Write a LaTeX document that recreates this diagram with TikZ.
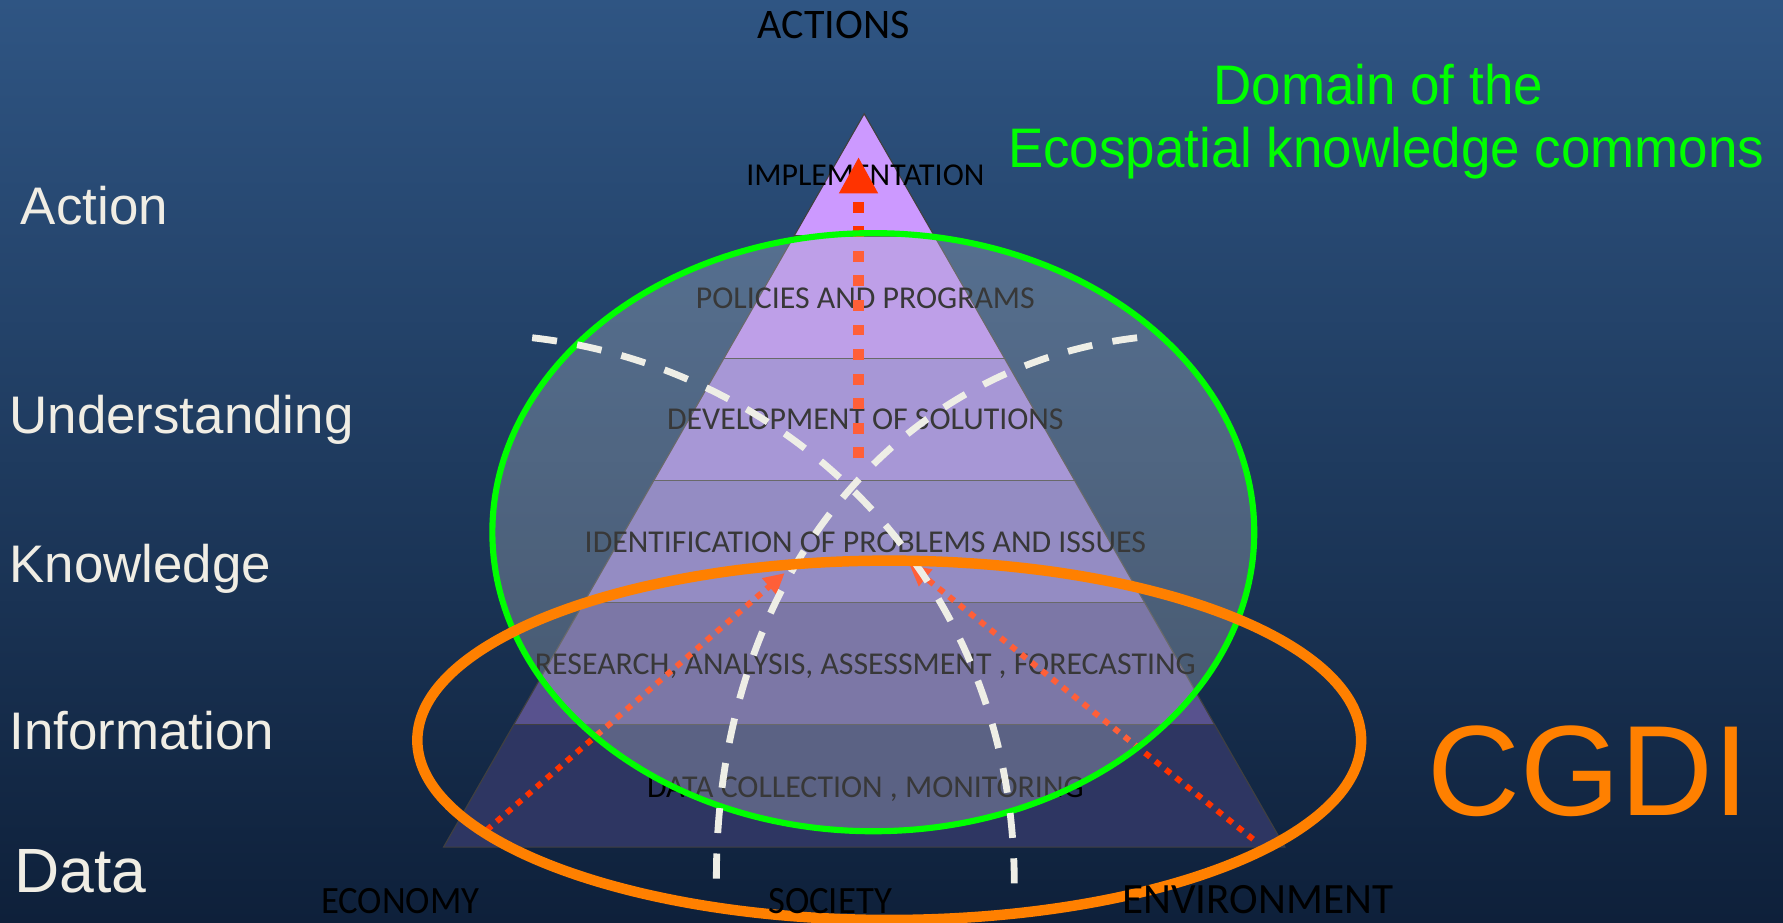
\documentclass[tikz,border=0pt]{standalone}
\usepackage{fontspec}
\setmainfont{Carlito}
\newfontfamily\arialf{Liberation Sans}
\usetikzlibrary{arrows.meta,calc}
\definecolor{bgtop}{RGB}{47,85,131}
\definecolor{bgbot}{RGB}{14,32,58}
\definecolor{layA}{RGB}{204,153,255}
\definecolor{layB}{RGB}{172,133,226}
\definecolor{layC}{RGB}{143,123,203}
\definecolor{layD}{RGB}{118,108,179}
\definecolor{layE}{RGB}{88,82,142}
\definecolor{layF}{RGB}{46,54,98}
\definecolor{arrowred}{RGB}{255,51,0}
\definecolor{dashwhite}{RGB}{238,238,230}
\definecolor{sidewhite}{RGB}{240,237,228}
\definecolor{cgdiorange}{RGB}{255,128,0}
\definecolor{domgreen}{RGB}{0,255,0}
\begin{document}
\begin{tikzpicture}[x=0.5pt,y=-0.5pt,
  layerlbl/.style={font=\fontsize{14}{16}\selectfont, text=black, inner sep=0pt, text depth=0pt},
  caplbl/.style={font=\fontsize{17}{19}\selectfont, text=black, inner sep=0pt, text depth=0pt},
  sidelbl/.style={font=\arialf\fontsize{23.25}{26}\selectfont, text=sidewhite, anchor=base west, inner sep=0pt},
  layerline/.style={draw=black!75, line width=0.5pt},
  bigarrow/.style={draw=arrowred, line width=4.8pt, dash pattern=on 4.8pt off 6pt, -{Triangle[length=16pt,width=16pt]}},
  diagarrow/.style={draw=arrowred, line width=2.6pt, dash pattern=on 2.8pt off 3pt, -{Triangle[length=9pt,width=9pt]}},
  whitedash/.style={draw=dashwhite, line width=3pt, dash pattern=on 11pt off 9pt},
]
\useasboundingbox (0,0) rectangle (1568,811);
\shade[top color=bgtop, bottom color=bgbot] (0,0) rectangle (1568,811);

% pyramid
\coordinate (A) at (760,100);
\coordinate (BL) at (390,745);
\coordinate (BR) at (1130,745);
\foreach \k in {1,...,5}{
  \coordinate (L\k) at ($(A)!\k/6!(BL)$);
  \coordinate (R\k) at ($(A)!\k/6!(BR)$);
}
\fill[layA] (A) -- (L1) -- (R1) -- cycle;
\fill[layB] (L1) -- (L2) -- (R2) -- (R1) -- cycle;
\fill[layC] (L2) -- (L3) -- (R3) -- (R2) -- cycle;
\fill[layD] (L3) -- (L4) -- (R4) -- (R3) -- cycle;
\fill[layE] (L4) -- (L5) -- (R5) -- (R4) -- cycle;
\fill[layF] (L5) -- (BL) -- (BR) -- (R5) -- cycle;
\foreach \k in {1,...,5}{ \draw[layerline] (L\k) -- (R\k); }
\draw[layerline] (A) -- (BL) -- (BR) -- cycle;

\node[layerlbl] (impl) at (761,154) {IMPLEMENTATION};
\node[layerlbl] (pol) at (761,262) {POLICIES AND PROGRAMS};
\node[layerlbl] (dev) at (761,369) {DEVELOPMENT OF SOLUTIONS};
\node[layerlbl] (ident) at (761,477) {IDENTIFICATION OF PROBLEMS AND ISSUES};
\node[layerlbl] (res) at (761,584) {RESEARCH, ANALYSIS, ASSESSMENT , FORECASTING};
\node[layerlbl] (datacol) at (761,692) {DATA COLLECTION , MONITORING};

% red arrows
\coordinate (vs) at (755,403);
\coordinate (ve) at (755,138);
\draw[bigarrow] (vs) -- (ve);
\coordinate (ls) at (428,730);
\coordinate (le) at (690,504);
\draw[diagarrow] (ls) -- (le);
\coordinate (rs) at (1102,738);
\coordinate (re) at (800,497);
\draw[diagarrow] (rs) -- (re);

% green domain ellipse
\fill[white, fill opacity=0.22] (768,468) ellipse [x radius=335, y radius=263];
\draw[domgreen, line width=2.7pt] (768,468) ellipse [x radius=335, y radius=263];

% white dashed curves
\coordinate (wa1) at (468,297);
\coordinate (wa2) at (892,778);
\coordinate (wb1) at (1000,297);
\coordinate (wb2) at (630,778);
\draw[whitedash] (wa1) .. controls (690,322) and (892,505) .. (wa2);
\draw[whitedash] (wb1) .. controls (790,322) and (628,505) .. (wb2);

% orange CGDI ellipse
\draw[cgdiorange, line width=4.6pt] (782,651) ellipse [x radius=415, y radius=158];

% outer labels
\node[caplbl, font=\fontsize{18.5}{20}\selectfont] (actions) at (733,22) {ACTIONS};
\node[caplbl] (econ) at (352,792) {\scalebox{0.95}[1]{ECONOMY}};
\node[caplbl] (soc) at (730,792) {\scalebox{0.95}[1]{SOCIETY}};
\node[caplbl, font=\fontsize{19}{21}\selectfont] (env) at (1106,791) {ENVIRONMENT};

\node[sidelbl] (action) at (18,197) {Action};
\node[sidelbl] (underst) at (8,381) {Understanding};
\node[sidelbl] (knowl) at (8,512) {Knowledge};
\node[sidelbl] (inform) at (8,659) {Information};
\node[sidelbl, font=\arialf\fontsize{27.5}{30}\selectfont] (data) at (12,785) {Data};

\node[anchor=base, inner sep=0pt, text=domgreen, font=\arialf\fontsize{24.5}{28}\selectfont] (dom1) at (1212,92) {\scalebox{0.95}[1]{Domain of the}};
\node[anchor=base, inner sep=0pt, text=domgreen, font=\arialf\fontsize{24.5}{28}\selectfont] (dom2) at (1219,147) {\scalebox{0.95}[1]{Ecospatial knowledge commons}};
\node[anchor=base, inner sep=0pt, text=cgdiorange, font=\arialf\fontsize{56.5}{60}\selectfont] (cgdi) at (1397,717) {CGDI};
\end{tikzpicture}
\end{document}
